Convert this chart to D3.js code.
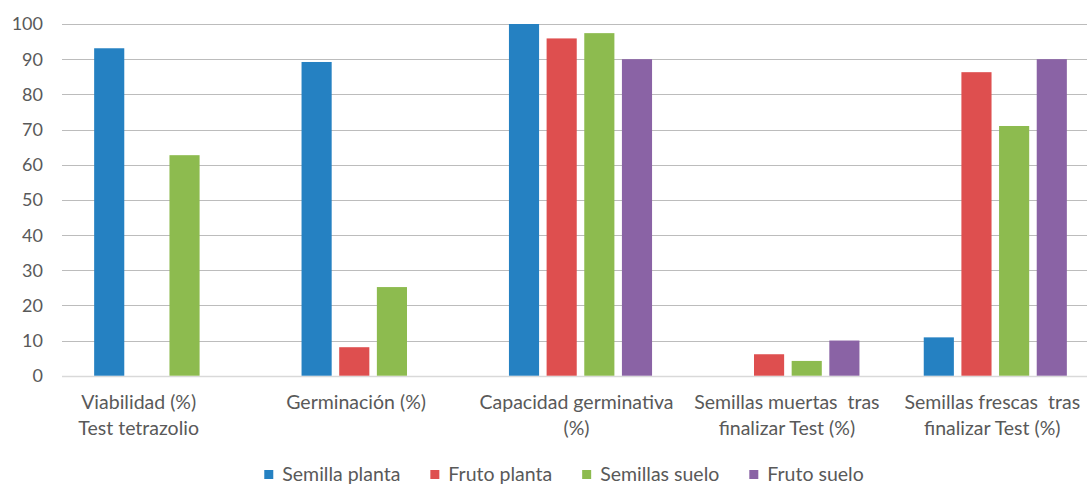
<!DOCTYPE html>
<html>
<head>
<meta charset="utf-8">
<script src="https://cdn.jsdelivr.net/npm/d3@7"></script>
<style>
  html, body { margin: 0; padding: 0; background: #fff; overflow: hidden; }
  text { font-family: Lato, "Noto Sans", sans-serif; fill: #595959; white-space: pre; }
</style>
</head>
<body>
<div id="chart"></div>
<script>
// --- Data ---
const categories = [
  ["Viabilidad (%)", "Test tetrazolio"],
  ["Germinación (%)"],
  ["Capacidad germinativa", "(%)"],
  ["Semillas muertas  tras", "finalizar Test (%)"],
  ["Semillas frescas  tras", "finalizar Test (%)"]
];
const seriesNames = ["Semilla planta", "Fruto planta", "Semillas suelo", "Fruto suelo"];
const semillaPlanta = [93.1, 89.2, 100, null, 10.9];
const frutoPlanta = [null, 8.1, 95.9, 6.1, 86.3];
const semillasSuelo = [62.7, 25.2, 97.4, 4.2, 71.0];
const frutoSuelo = [null, null, 90, 10, 90];
const yTicks = [0, 10, 20, 30, 40, 50, 60, 70, 80, 90, 100];

const seriesValues = [semillaPlanta, frutoPlanta, semillasSuelo, frutoSuelo];
const colors = ["#2581c2", "#de4f4f", "#8dbb4f", "#8a63a5"];

// --- Layout ---
const width = 1087, height = 486;
const plot = { left: 62, right: 1099, top: 24, bottom: 375.7 };
// Excel nudged some category labels off-centre
const labelShift = [-27, -17, -4, -1, -3];

const svg = d3.select("#chart").append("svg")
  .attr("width", width)
  .attr("height", height);

const x0 = d3.scaleBand()
  .domain(d3.range(categories.length))
  .range([plot.left, plot.right])
  .paddingInner(0.31)
  .paddingOuter(0.155);

const x1 = d3.scaleBand()
  .domain(d3.range(seriesNames.length))
  .range([0, x0.bandwidth()])
  .paddingInner(0.2);

const y = d3.scaleLinear()
  .domain([0, 100])
  .range([plot.bottom, plot.top]);

// gridlines
svg.append("g")
  .selectAll("line")
  .data(yTicks)
  .join("line")
  .attr("x1", plot.left)
  .attr("x2", width)
  .attr("y1", d => Math.round(y(d)) + 0.5)
  .attr("y2", d => Math.round(y(d)) + 0.5)
  .attr("stroke", d => d === 0 ? "#d9d9d9" : "#bcbcbc")
  .attr("stroke-width", d => d === 0 ? 1.5 : 1);

// y tick labels
svg.append("g")
  .selectAll("text")
  .data(yTicks)
  .join("text")
  .attr("x", 43)
  .attr("y", d => y(d))
  .attr("dy", "0.36em")
  .attr("text-anchor", "end")
  .style("font-size", "18px")
  .text(d => d);

// bars
const groups = svg.append("g")
  .selectAll("g")
  .data(categories)
  .join("g")
  .attr("transform", (d, i) => `translate(${x0(i)},0)`);

groups.selectAll("rect")
  .data((d, i) => seriesValues.map((vals, s) => ({ s, v: vals[i] })).filter(d => d.v != null))
  .join("rect")
  .attr("x", d => x1(d.s))
  .attr("width", x1.bandwidth())
  .attr("y", d => y(d.v))
  .attr("height", d => y(0) - y(d.v))
  .attr("fill", d => colors[d.s]);

// category labels
const catLabels = svg.append("g")
  .selectAll("text")
  .data(categories)
  .join("text")
  .attr("x", (d, i) => x0(i) + x0.bandwidth() / 2 + labelShift[i])
  .attr("y", 409)
  .attr("text-anchor", "middle")
  .style("font-size", "19.5px");

catLabels.selectAll("tspan")
  .data(d => d)
  .join("tspan")
  .attr("x", function () { return d3.select(this.parentNode).attr("x"); })
  .attr("dy", (d, i) => i === 0 ? 0 : 25.7)
  .text(d => d);

// legend
const legend = svg.append("g");
const items = legend.selectAll("g")
  .data(seriesNames)
  .join("g");
items.append("rect")
  .attr("width", 9)
  .attr("height", 9)
  .attr("y", 470)
  .attr("fill", (d, i) => colors[i]);
items.append("text")
  .attr("x", 18)
  .attr("y", 481)
  .style("font-size", "19.5px")
  .text(d => d);

let cursor = 0;
const widths = [];
items.each(function () {
  const w = 18 + this.querySelector("text").getComputedTextLength();
  widths.push(w);
});
const gap = 30;
const total = d3.sum(widths) + gap * (widths.length - 1);
cursor = 564 - total / 2;
items.attr("transform", (d, i) => {
  const tx = cursor;
  cursor += widths[i] + gap;
  return `translate(${tx},0)`;
});
</script>
</body>
</html>
